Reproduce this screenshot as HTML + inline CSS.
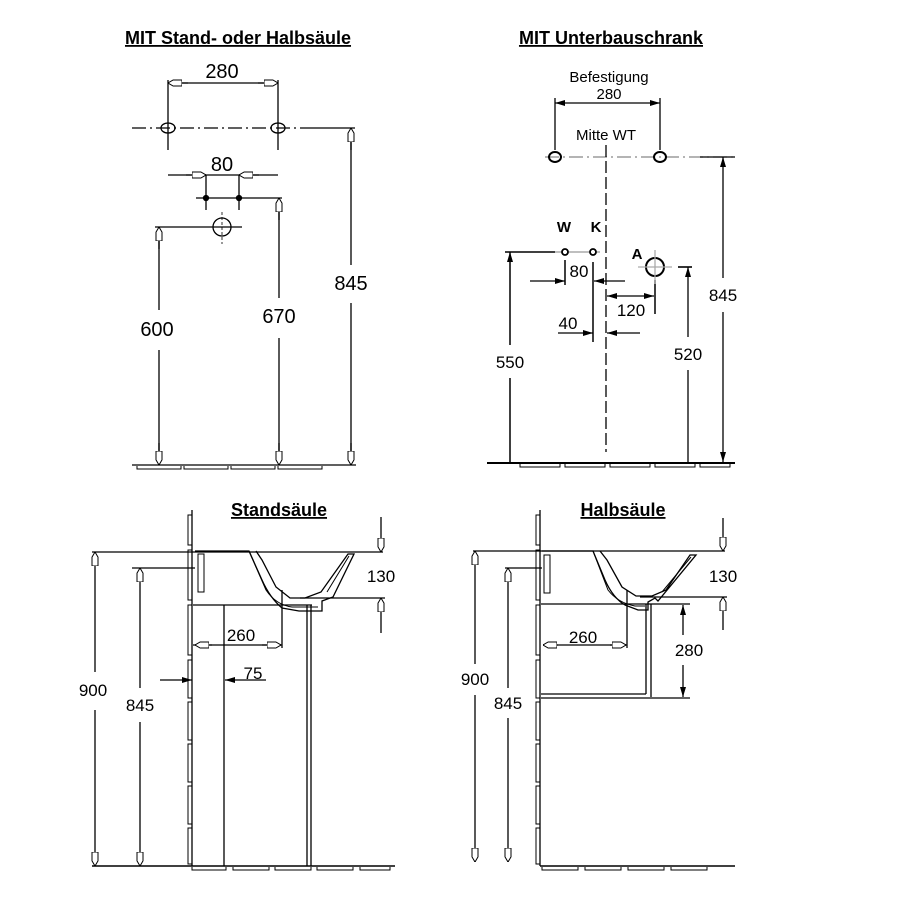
<!DOCTYPE html>
<html><head><meta charset="utf-8"><style>
html,body{margin:0;padding:0;background:#fff}
svg{display:block}
text{font-family:"Liberation Sans",Arial,sans-serif;fill:#000}
.t{font-weight:bold;font-size:18px;text-decoration:underline}
.n{font-size:20px}
.s{font-size:15px}
.m{font-size:17px}
</style></head><body>
<svg width="900" height="900" viewBox="0 0 900 900" xmlns="http://www.w3.org/2000/svg">
<defs>
<marker id="a" viewBox="0 0 10 6" refX="10" refY="3" markerWidth="10" markerHeight="6" markerUnits="userSpaceOnUse" orient="auto-start-reverse"><path d="M0,0L10,3L0,6z" fill="#000"/></marker>
<marker id="b" viewBox="0 0 14 7" refX="14" refY="3.5" markerWidth="14" markerHeight="7" markerUnits="userSpaceOnUse" orient="auto-start-reverse"><path d="M0,0.5H8V0L14,3.5L8,7V6.5H0z" fill="#fff" stroke="#000" stroke-width="1"/></marker>
</defs>
<g stroke="#000" stroke-width="1.3" fill="none">
<!-- ===== Top-left ===== -->
<line x1="168" y1="80" x2="168" y2="150"/><line x1="278" y1="80" x2="278" y2="150"/>
<line x1="168" y1="83" x2="278" y2="83"/>
<line x1="168" y1="83" x2="188" y2="83" marker-start="url(#b)"/>
<line x1="258" y1="83" x2="278" y2="83" marker-end="url(#b)"/>
<line x1="132" y1="128" x2="300" y2="128" stroke-dasharray="14 4 2 4"/>
<line x1="300" y1="128" x2="355" y2="128"/>
<ellipse cx="168" cy="128" rx="7" ry="5"/><ellipse cx="278" cy="128" rx="7" ry="5"/>
<line x1="351" y1="128" x2="351" y2="265"/><line x1="351" y1="303" x2="351" y2="465"/>
<line x1="351" y1="150" x2="351" y2="128" marker-end="url(#b)"/>
<line x1="351" y1="443" x2="351" y2="465" marker-end="url(#b)"/>
<line x1="168" y1="175" x2="278" y2="175"/>
<line x1="186" y1="175" x2="206" y2="175" marker-end="url(#b)"/>
<line x1="259" y1="175" x2="239" y2="175" marker-end="url(#b)"/>
<line x1="206" y1="175" x2="206" y2="210"/><line x1="239" y1="175" x2="239" y2="210"/>
<line x1="196" y1="198" x2="282" y2="198"/>
<circle cx="206" cy="198" r="2.5" fill="#000"/><circle cx="239" cy="198" r="2.5" fill="#000"/>
<line x1="279" y1="198" x2="279" y2="298"/><line x1="279" y1="338" x2="279" y2="465"/>
<line x1="279" y1="220" x2="279" y2="198" marker-end="url(#b)"/>
<line x1="279" y1="443" x2="279" y2="465" marker-end="url(#b)"/>
<circle cx="222" cy="227" r="9"/>
<line x1="222" y1="212" x2="222" y2="244" stroke-dasharray="3 2" stroke-width="0.8"/>
<line x1="155" y1="227" x2="242" y2="227"/>
<line x1="159" y1="227" x2="159" y2="310"/><line x1="159" y1="350" x2="159" y2="465"/>
<line x1="159" y1="249" x2="159" y2="227" marker-end="url(#b)"/>
<line x1="159" y1="443" x2="159" y2="465" marker-end="url(#b)"/>
<line x1="132" y1="465" x2="356" y2="465"/>
<path d="M137,466v3h44v-3M184,466v3h44v-3M231,466v3h44v-3M278,466v3h44v-3" stroke-width="1"/>
<!-- ===== Top-right ===== -->
<line x1="555" y1="98" x2="555" y2="150"/><line x1="660" y1="98" x2="660" y2="150"/>
<line x1="555" y1="103" x2="660" y2="103" marker-start="url(#a)" marker-end="url(#a)"/>
<line x1="545" y1="157" x2="735" y2="157" stroke-dasharray="14 4 2 4" stroke="#888"/>
<ellipse cx="555" cy="157" rx="6" ry="5" stroke-width="2"/><ellipse cx="660" cy="157" rx="6" ry="5" stroke-width="2"/>
<line x1="606" y1="145" x2="606" y2="452" stroke-dasharray="12 4"/>
<line x1="700" y1="157" x2="735" y2="157"/>
<line x1="723" y1="157" x2="723" y2="278" marker-start="url(#a)"/><line x1="723" y1="312" x2="723" y2="462" marker-end="url(#a)"/>
<line x1="555" y1="252" x2="600" y2="252" stroke="#999"/>
<circle cx="565" cy="252" r="3" fill="#fff" stroke-width="1.8"/><circle cx="593" cy="252" r="3" fill="#fff" stroke-width="1.8"/>
<line x1="505" y1="252" x2="555" y2="252" stroke-width="1.6"/>
<line x1="510" y1="252" x2="510" y2="345" marker-start="url(#a)" stroke-width="1.5"/><line x1="510" y1="378" x2="510" y2="462" stroke-width="1.5"/>
<line x1="565" y1="260" x2="565" y2="285" stroke-width="1.5"/>
<line x1="593" y1="262" x2="593" y2="342" stroke-width="1.5"/>
<line x1="530" y1="281" x2="565" y2="281" marker-end="url(#a)"/>
<line x1="625" y1="281" x2="594" y2="281" marker-end="url(#a)"/>
<line x1="607" y1="296" x2="654" y2="296" marker-start="url(#a)" marker-end="url(#a)"/>
<line x1="655" y1="280" x2="655" y2="314" stroke-width="1.5"/>
<circle cx="655" cy="267" r="9" stroke-width="2"/>
<line x1="638" y1="267" x2="672" y2="267" stroke="#aaa"/><line x1="655" y1="250" x2="655" y2="284" stroke="#aaa"/>
<line x1="678" y1="267" x2="692" y2="267" stroke-width="1.6"/>
<line x1="688" y1="267" x2="688" y2="337" marker-start="url(#a)"/><line x1="688" y1="370" x2="688" y2="462"/>
<line x1="558" y1="333" x2="593" y2="333" marker-end="url(#a)"/>
<line x1="640" y1="333" x2="607" y2="333" marker-end="url(#a)"/>
<line x1="487" y1="463" x2="735" y2="463" stroke-width="2"/>
<path d="M520,464v3h40v-3M565,464v3h40v-3M610,464v3h40v-3M655,464v3h40v-3M700,464v3h30v-3" stroke-width="1"/>
<!-- ===== Bottom-left Standsäule ===== -->
<line x1="192" y1="510" x2="192" y2="866"/>
<path d="M192,515h-4v30h4M192,550h-4v50h4M192,605h-4v50h4M192,660h-4v38h4M192,702h-4v38h4M192,744h-4v38h4M192,786h-4v38h4M192,828h-4v36h4" stroke-width="1"/>
<line x1="92" y1="552" x2="383" y2="552"/>
<line x1="95" y1="552" x2="95" y2="672" marker-start="url(#b)"/><line x1="95" y1="710" x2="95" y2="866" marker-end="url(#b)"/>
<line x1="132" y1="568" x2="195" y2="568"/>
<line x1="140" y1="568" x2="140" y2="688" marker-start="url(#b)"/><line x1="140" y1="722" x2="140" y2="866" marker-end="url(#b)"/>
<path d="M195,551H249L262,580Q270,598 282,608L299,611H322V601L333,597L354,554H348L321,592L305,598H290L276,587L262,560L256,551" stroke-width="1.3"/>
<path d="M249,551L266,590Q276,605 292,607H318M327,592L349,556" stroke-width="1"/>
<path d="M198,554v38h6v-38z" stroke-width="1"/>
<line x1="193" y1="605" x2="312" y2="605"/>
<line x1="300" y1="598" x2="385" y2="598"/>
<line x1="381" y1="517" x2="381" y2="552" marker-end="url(#b)"/>
<line x1="381" y1="633" x2="381" y2="598" marker-end="url(#b)"/>
<line x1="224" y1="605" x2="224" y2="866"/>
<line x1="307" y1="605" x2="307" y2="866"/><line x1="311" y1="605" x2="311" y2="866"/>
<line x1="282" y1="590" x2="282" y2="648"/>
<line x1="193" y1="645" x2="282" y2="645"/>
<line x1="195" y1="645" x2="212" y2="645" marker-start="url(#b)"/>
<line x1="262" y1="645" x2="281" y2="645" marker-end="url(#b)"/>
<line x1="160" y1="680" x2="192" y2="680" marker-end="url(#a)"/>
<line x1="266" y1="680" x2="225" y2="680" marker-end="url(#a)"/>
<line x1="92" y1="866" x2="395" y2="866" stroke-width="1.5"/>
<path d="M192,867v3h34v-3M233,867v3h36v-3M275,867v3h36v-3M317,867v3h36v-3M360,867v3h30v-3" stroke-width="1"/>
<!-- ===== Bottom-right Halbsäule ===== -->
<line x1="540" y1="510" x2="540" y2="866"/>
<path d="M540,515h-4v30h4M540,550h-4v50h4M540,605h-4v50h4M540,660h-4v38h4M540,702h-4v38h4M540,744h-4v38h4M540,786h-4v38h4M540,828h-4v36h4" stroke-width="1"/>
<line x1="473" y1="551" x2="725" y2="551"/>
<line x1="475" y1="551" x2="475" y2="664" marker-start="url(#b)"/><line x1="475" y1="695" x2="475" y2="862" marker-end="url(#b)"/>
<line x1="505" y1="568" x2="542" y2="568"/>
<line x1="508" y1="568" x2="508" y2="688" marker-start="url(#b)"/><line x1="508" y1="718" x2="508" y2="862" marker-end="url(#b)"/>
<path d="M542,551H593L605,580Q613,598 625,605L638,610H648V602L655,598L658,601L696,555H690L666,590L652,596H636L622,587L607,560L600,551" stroke-width="1.3"/>
<path d="M593,551L608,590Q618,603 635,606H645M662,592L691,557" stroke-width="1"/>
<path d="M544,555v38h6v-38z" stroke-width="1"/>
<line x1="541" y1="604" x2="690" y2="604"/>
<line x1="640" y1="597" x2="727" y2="597"/>
<line x1="723" y1="518" x2="723" y2="551" marker-end="url(#b)"/>
<line x1="723" y1="630" x2="723" y2="597" marker-end="url(#b)"/>
<line x1="646" y1="604" x2="646" y2="694"/><line x1="651" y1="604" x2="651" y2="697"/>
<line x1="541" y1="694" x2="646" y2="694"/><line x1="541" y1="698" x2="690" y2="698"/>
<line x1="627" y1="590" x2="627" y2="648"/>
<line x1="543" y1="645" x2="627" y2="645"/>
<line x1="543" y1="645" x2="558" y2="645" marker-start="url(#b)"/>
<line x1="610" y1="645" x2="626" y2="645" marker-end="url(#b)"/>
<line x1="683" y1="605" x2="683" y2="635" marker-start="url(#a)"/><line x1="683" y1="665" x2="683" y2="697" marker-end="url(#a)"/>
<line x1="540" y1="866" x2="735" y2="866" stroke-width="1.5"/>
<path d="M542,867v3h36v-3M585,867v3h36v-3M628,867v3h36v-3M671,867v3h36v-3" stroke-width="1"/>
</g>
<!-- text -->
<text class="t" x="238" y="44" text-anchor="middle">MIT Stand- oder Halbsäule</text>
<text class="t" x="611" y="44" text-anchor="middle">MIT Unterbauschrank</text>
<text class="n" x="222" y="78" text-anchor="middle">280</text>
<text class="n" x="222" y="171" text-anchor="middle">80</text>
<text class="n" x="351" y="290" text-anchor="middle">845</text>
<text class="n" x="279" y="323" text-anchor="middle">670</text>
<text class="n" x="157" y="336" text-anchor="middle">600</text>
<text class="s" x="609" y="82" text-anchor="middle">Befestigung</text>
<text class="s" x="609" y="99" text-anchor="middle">280</text>
<text class="s" x="606" y="140" text-anchor="middle">Mitte WT</text>
<text class="s" x="564" y="232" text-anchor="middle" font-weight="bold">W</text>
<text class="s" x="596" y="232" text-anchor="middle" font-weight="bold">K</text>
<text class="s" x="637" y="259" text-anchor="middle" font-weight="bold">A</text>
<text class="m" x="579" y="277" text-anchor="middle">80</text>
<text class="m" x="631" y="316" text-anchor="middle">120</text>
<text class="m" x="568" y="329" text-anchor="middle">40</text>
<text class="m" x="723" y="301" text-anchor="middle">845</text>
<text class="m" x="510" y="368" text-anchor="middle">550</text>
<text class="m" x="688" y="360" text-anchor="middle">520</text>
<text class="t" x="279" y="516" text-anchor="middle">Standsäule</text>
<text class="t" x="623" y="516" text-anchor="middle">Halbsäule</text>
<text class="m" x="381" y="582" text-anchor="middle">130</text>
<text class="m" x="241" y="641" text-anchor="middle">260</text>
<text class="m" x="253" y="679" text-anchor="middle">75</text>
<text class="m" x="93" y="696" text-anchor="middle">900</text>
<text class="m" x="140" y="711" text-anchor="middle">845</text>
<text class="m" x="723" y="582" text-anchor="middle">130</text>
<text class="m" x="583" y="643" text-anchor="middle">260</text>
<text class="m" x="689" y="656" text-anchor="middle">280</text>
<text class="m" x="475" y="685" text-anchor="middle">900</text>
<text class="m" x="508" y="709" text-anchor="middle">845</text>
</svg>
</body></html>
